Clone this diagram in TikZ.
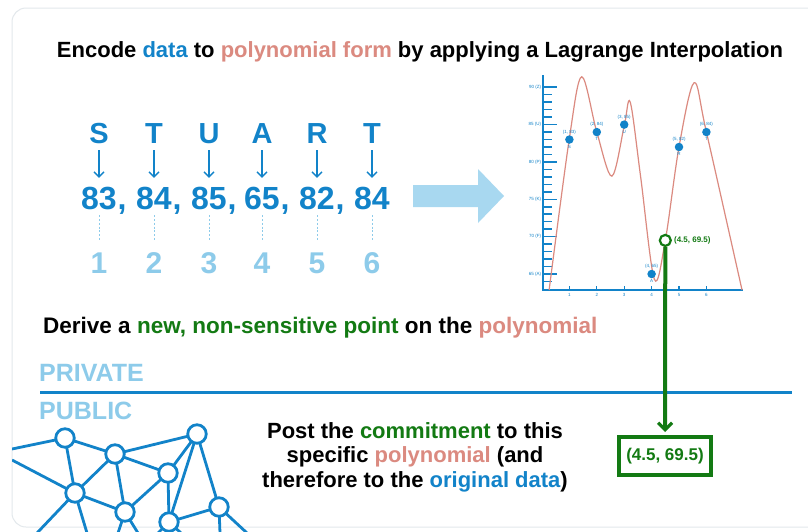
\documentclass[tikz,border=0pt]{standalone}
\usepackage{fontspec}
\setmainfont{Liberation Sans}
\usetikzlibrary{arrows.meta}
\definecolor{dblue}{HTML}{1283C9}
\definecolor{lblue}{HTML}{8DCBEA}
\definecolor{salmon}{HTML}{DB8A80}
\definecolor{dgreen}{HTML}{137A13}
\definecolor{arrowblue}{HTML}{A8D8F0}
\definecolor{cardgray}{HTML}{E3E8EC}
\newcommand{\fs}[1]{\fontsize{#1}{#1}\selectfont}
\tikzset{
  headline/.style={font=\bfseries\fs{22}, text=black, inner sep=0},
  letter/.style={font=\bfseries\fs{29}, text=dblue, inner sep=0, text height=21, text depth=0},
  numtxt/.style={font=\bfseries\fs{32}, text=dblue, inner sep=0, text height=23, text depth=0},
  idx/.style={font=\bfseries\fs{30}, text=lblue, inner sep=0, text height=21.5, text depth=0},
  downarrow/.style={dblue, line width=1.3, -{Straight Barb[length=5pt,width=10pt,line width=1.3]}},
  dashline/.style={lblue, line width=0.8, dash pattern=on 2pt off 1.8pt},
  tiny/.style={font=\fs{4.5}, text=dblue, inner sep=0.8},
  dot/.style={circle, fill=dblue, minimum size=8.5, inner sep=0},
  netnode/.style={circle, draw=dblue, fill=white, line width=2.8, minimum size=18.5, inner sep=0},
  netedge/.style={dblue, line width=2.8},
}
\begin{document}
\begin{tikzpicture}[x=1pt,y=-1pt]
\useasboundingbox (0,0) rectangle (808,531);
\fill[white] (0,0) rectangle (808,531);
\draw[cardgray, line width=1, rounded corners=14] (12,8) rectangle (850,527);

% title
\node[headline] (title) at (420,52) {Encode \textcolor{dblue}{data} to \textcolor{salmon}{polynomial form} by applying a Lagrange Interpolation};

% letters, numbers, indices
\foreach \i/\x/\L/\N in {1/99/S/83, 2/154/T/84, 3/209/U/85, 4/262/A/65, 5/317/R/82, 6/372/T/84} {
  \node[letter] (L\i) at (\x,133) {\L};
  \node[numtxt] (N\i) at (\x,198) {\N};
  \node[idx] (I\i) at (\x,263) {\i};
  \draw[downarrow, shorten <=6.5pt] (L\i.south) -- ([yshift=8.5pt]N\i.north);
  \draw[dashline, shorten <=5.5pt, shorten >=12pt] (N\i.south) -- (I\i.north);
}
\foreach \i in {1,...,5} {
  \node[font=\bfseries\fs{32}, text=dblue, inner sep=0, anchor=base west] at ([xshift=0.5pt]N\i.base east) {,};
}

% big arrow
\fill[arrowblue] (413,185) -- (478,185) -- (478,169) -- (504,196) -- (478,223) -- (478,207) -- (413,207) -- cycle;

% graph
\begin{scope}[shift={(542,759.55)}, x=27.4pt, y=7.47pt]
  \draw[dblue, line width=2] (0.04,91.6) -- (0.04,62.86) -- (7.33,62.86);
  \foreach \v in {64,...,89} \draw[dblue, line width=1.5] (0.04,\v) -- (0.37,\v);
  \foreach \v/\c in {90/Z,85/U,80/P,75/K,70/F,65/A} {
    \draw[dblue, line width=1.6] (0.04,\v) -- (0.55,\v);
    \node[tiny, anchor=east] at (0.0,\v) {\v\ (\c)};
  }
  \foreach \t in {1,...,6} {
    \draw[dblue, line width=1.3] (\t,62.86) -- (\t,63.4);
    \node[tiny, anchor=north] at (\t,62.6) {\t};
  }
  \draw[salmon, line width=1.2] plot[smooth, tension=0.55] coordinates {
    (0.26,62.86) (1,83.2) (1.45,91.4) (2,84) (2.55,78.1) (3,84.8) (3.22,88)
    (3.6,78) (4.1,64.3) (4.5,69.5) (5,82) (5.55,90.6) (6,84) (7.3,62.86)};
  \foreach \i/\x/\v/\c in {1/1/83/S, 2/2/84/T, 3/3/85/U, 4/4/65/A, 5/5/82/R, 6/6/84/T} {
    \node[dot, label={[tiny]above:(\x, \v)}, label={[tiny]below:\c}] (P\i) at (\x,\v) {};
  }
  \node[circle, draw=dgreen, fill=white, line width=2.2, minimum size=11, inner sep=0,
        label={[font=\bfseries\fs{8}, text=dgreen, inner sep=2]right:(4.5, 69.5)}] (G) at (4.5,69.5) {};
\end{scope}

% derive line
\node[headline, anchor=west, font=\bfseries\fs{22.5}] (derive) at (43,328) {Derive a \textcolor{dgreen}{new, non-sensitive point} on the \textcolor{salmon}{polynomial}};

% private / public
\node[font=\bfseries\fs{25}, text=lblue, inner sep=0, anchor=west] (priv) at (39,373) {PRIVATE};
\node[font=\bfseries\fs{25}, text=lblue, inner sep=0, anchor=west] (pub) at (39,411) {PUBLIC};
\coordinate (sepL) at (40,392);
\coordinate (sepR) at (792,392);
\draw[dblue, line width=3] (sepL) -- (sepR);

% commitment box and green line
\node[draw=dgreen, line width=4, text=dgreen, font=\bfseries\fs{17}, minimum width=92, minimum height=38, inner sep=0] (box) at (665,456) {(4.5, 69.5)};
\draw[dgreen, line width=4, -{Straight Barb[length=7pt,width=14pt,line width=3.2]}] (G.south) -- ([yshift=3pt]box.north);

% post text
\node[align=center, inner sep=0, text=black, font=\bfseries\fontsize{22}{24.5}\selectfont] (post) at (415,457) {Post the \textcolor{dgreen}{commitment} to this\\ specific \textcolor{salmon}{polynomial} (and\\ therefore to the \textcolor{dblue}{original data})};

% network
\begin{scope}
\clip (12,400) rectangle (300,531);
\coordinate (e1) at (12,449);
\coordinate (e2) at (12,460);
\coordinate (b1) at (37,533); \coordinate (b2) at (87,533);
\coordinate (b3) at (118,533); \coordinate (b4) at (138,533);
\coordinate (b5) at (158,533); \coordinate (b6) at (181,533);
\coordinate (b7) at (220,533); \coordinate (b8) at (247,533);
\coordinate (n1) at (65,438);
\coordinate (n2) at (115,454);
\coordinate (n3) at (197,434);
\coordinate (n4) at (168,473);
\coordinate (n5) at (75,493);
\coordinate (n6) at (125,512);
\coordinate (n7) at (169,522);
\coordinate (n8) at (219,507);
\foreach \a/\b in {e1/n1, e2/n5, n1/n2, n1/n5, n2/n3, n2/n5, n2/n6, n2/n4, n3/n4, n3/n7, n3/n8,
                   n4/n6, n4/n7, n5/n6, n7/n8, n5/b1, n5/b2, n6/b3, n6/b4, n7/b5, n7/b6, n8/b7, n8/b8}
  \draw[netedge] (\a) -- (\b);
\foreach \n in {n1,n2,n3,n4,n5,n6,n7,n8} \node[netnode] (c\n) at (\n) {};
\end{scope}
\end{tikzpicture}
\end{document}
